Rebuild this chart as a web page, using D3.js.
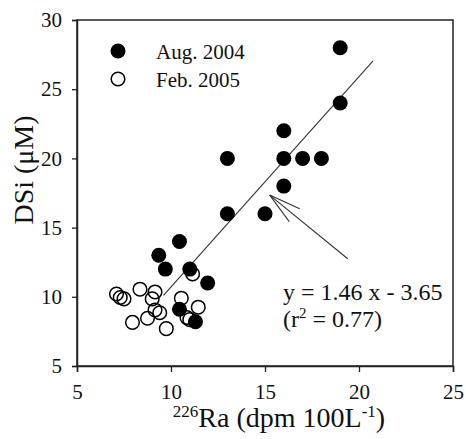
<!DOCTYPE html>
<html>
<head>
<meta charset="utf-8">
<script src="https://cdn.jsdelivr.net/npm/d3@7"></script>
<style>
  body { margin: 0; background: #fff; }
  svg text { font-family: "Liberation Serif", "Times New Roman", serif; fill: #111; }
</style>
</head>
<body>
<svg id="main-svg" width="466" height="439"></svg>
<script>
// Aug. 2004 (filled)
const augRa = [19, 19, 16, 16, 17, 18, 16, 13, 13, 15, 10.45, 9.35, 9.7, 11, 11.95, 10.45, 11.3];
const augSi = [28, 24, 22, 20, 20, 20, 18, 20, 16, 16, 14, 13, 12, 12, 11, 9.1, 8.2];

// Feb. 2005 (open)
const febRa = [7.1, 7.3, 7.5, 8.35, 9.15, 9.0, 9.15, 9.4, 8.75, 7.95, 9.75, 10.55, 11.45, 10.85, 11.0, 11.15];
const febSi = [10.2, 9.95, 9.85, 10.55, 10.35, 9.85, 9.05, 8.85, 8.45, 8.15, 7.7, 9.9, 9.25, 8.5, 8.35, 11.65];

// regression line as drawn, and the arrow pointing at it
const fitRa = [9.6, 20.75];
const fitSi = [10.1, 27.05];
const arrowRa = [19.4, 15.25];
const arrowSi = [12.75, 17.35];

const xTicks = [5, 10, 15, 20, 25];
const yTicks = [5, 10, 15, 20, 25, 30];
const seriesNames = ["Aug. 2004", "Feb. 2005"];

const svg = d3.select("#main-svg");

// plot box
const box = { left: 77, right: 453, top: 20, bottom: 366 };

const x = d3.scaleLinear().domain([5, 25]).range([box.left, box.right]);
const y = d3.scaleLinear().domain([5, 30]).range([box.bottom, box.top]);

// frame
svg.append("rect")
    .attr("x", box.left).attr("y", box.top)
    .attr("width", box.right - box.left).attr("height", box.bottom - box.top)
    .attr("fill", "none").attr("stroke", "#222").attr("stroke-width", 1.5);

// axes
const xAxis = svg.append("g")
    .attr("transform", `translate(0,${box.bottom})`)
    .call(d3.axisBottom(x).tickValues(xTicks).tickSize(6).tickPadding(12));
const yAxis = svg.append("g")
    .attr("transform", `translate(${box.left},0)`)
    .call(d3.axisLeft(y).tickValues(yTicks).tickSize(5).tickPadding(10));

[xAxis, yAxis].forEach(a => {
    a.attr("font-family", null).attr("font-size", "21px");
    a.select(".domain").attr("stroke", "#222").attr("stroke-width", 1.5);
    a.selectAll(".tick line").attr("stroke", "#222").attr("stroke-width", 1.3);
    a.selectAll(".tick text").attr("fill", "#111");
});

// regression line
svg.append("line")
    .attr("x1", x(fitRa[0])).attr("y1", y(fitSi[0]))
    .attr("x2", x(fitRa[1])).attr("y2", y(fitSi[1]))
    .attr("stroke", "#333").attr("stroke-width", 1.1);

// arrow
const ax1 = x(arrowRa[0]), ay1 = y(arrowSi[0]);
const ax2 = x(arrowRa[1]), ay2 = y(arrowSi[1]);
const ang = Math.atan2(ay1 - ay2, ax1 - ax2);
const barb = 33, spread = 14.5 * Math.PI / 180;
const arrow = svg.append("g").attr("stroke", "#333").attr("stroke-width", 1.1);
arrow.append("line").attr("x1", ax1).attr("y1", ay1).attr("x2", ax2).attr("y2", ay2);
[-spread, spread].forEach(s => {
    arrow.append("line")
        .attr("x1", ax2).attr("y1", ay2)
        .attr("x2", ax2 + barb * Math.cos(ang + s))
        .attr("y2", ay2 + barb * Math.sin(ang + s));
});

// points
const r = 7.5;
svg.append("g").selectAll("circle")
    .data(d3.zip(augRa, augSi))
    .enter().append("circle")
    .attr("cx", d => x(d[0])).attr("cy", d => y(d[1]))
    .attr("r", r).attr("fill", "#000");

svg.append("g").selectAll("circle")
    .data(d3.zip(febRa, febSi))
    .enter().append("circle")
    .attr("cx", d => x(d[0])).attr("cy", d => y(d[1]))
    .attr("r", r - 0.7).attr("fill", "none")
    .attr("stroke", "#000").attr("stroke-width", 1.5);

// legend
const legend = svg.append("g");
seriesNames.forEach((name, i) => {
    const ly = 51 + i * 28;
    legend.append("circle")
        .attr("cx", 118).attr("cy", ly).attr("r", i === 0 ? r : r - 0.7)
        .attr("fill", i === 0 ? "#000" : "none")
        .attr("stroke", "#000").attr("stroke-width", i === 0 ? 0 : 1.5);
    legend.append("text")
        .attr("x", 156).attr("y", ly + 8)
        .attr("font-size", "21px")
        .text(name);
});

// equation
svg.append("text")
    .attr("x", 283).attr("y", 300)
    .attr("font-size", "24px")
    .text("y = 1.46 x - 3.65");
const r2 = svg.append("text")
    .attr("x", 283).attr("y", 327)
    .attr("font-size", "24px");
r2.append("tspan").text("(r");
r2.append("tspan").attr("font-size", "15px").attr("dy", -9).text("2");
r2.append("tspan").attr("dy", 9).text(" = 0.77)");

// axis titles
const xt = svg.append("text")
    .attr("x", 279).attr("y", 427)
    .attr("text-anchor", "middle")
    .attr("font-size", "28px");
xt.append("tspan").attr("font-size", "17px").attr("dy", -10).text("226");
xt.append("tspan").attr("dy", 10).text("Ra (dpm 100L");
xt.append("tspan").attr("font-size", "17px").attr("dy", -10).text("-1");
xt.append("tspan").attr("dy", 10).text(")");

svg.append("text")
    .attr("transform", "translate(33,170) rotate(-90)")
    .attr("text-anchor", "middle")
    .attr("font-size", "28px")
    .text("DSi (μM)");
</script>
</body>
</html>
